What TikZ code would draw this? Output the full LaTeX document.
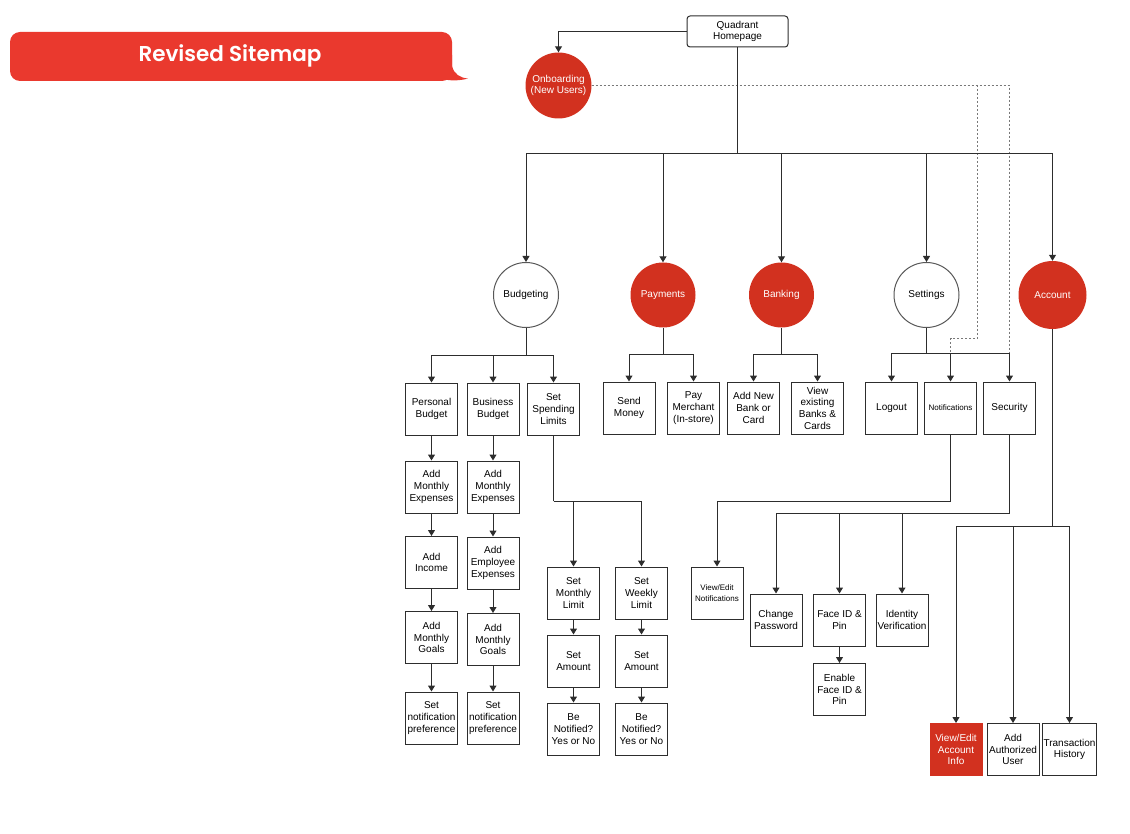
\documentclass[tikz,border=0pt]{standalone}
\usepackage{fontspec}
\setmainfont{Liberation Sans}
\newfontfamily\titlefont{Poppins}[BoldFont={* SemiBold}]
\usetikzlibrary{arrows.meta}
\definecolor{qred}{RGB}{210,49,31}
\definecolor{bannerred}{RGB}{234,57,46}
\definecolor{lnc}{RGB}{45,45,45}
\definecolor{dotc}{RGB}{120,120,120}
\tikzset{
  box/.style={draw=lnc, line width=1pt, minimum width=52pt, minimum height=52pt, inner sep=1pt, align=center, font=\fontsize{10}{11.7}\selectfont},
  redbox/.style={box, fill=qred, draw=qred, text=white},
  smallbox/.style={box, font=\fontsize{8}{11.7}\selectfont},
  wcirc/.style={circle, draw=lnc!80, line width=1pt, fill=white, minimum size=65pt, inner sep=0pt, align=center, font=\fontsize{10}{11.7}\selectfont},
  rcirc/.style={circle, fill=qred, text=white, minimum size=65pt, inner sep=0pt, align=center, font=\fontsize{10}{11.7}\selectfont},
  homebox/.style={draw=lnc, line width=1pt, rounded corners=3pt, minimum width=101pt, minimum height=31pt, inner sep=1pt, align=center, font=\fontsize{10}{11.7}\selectfont},
  conn/.style={draw=lnc, line width=1pt},
  arr/.style={conn, -{Triangle[width=7pt,length=6pt]}},
  dots/.style={draw=dotc, line width=1pt, dash pattern=on 2pt off 2pt}
}
\begin{document}
\begin{tikzpicture}[x=1pt, y=-1pt]
\useasboundingbox (0,0) rectangle (1130,834);
% title banner
\fill[bannerred, rounded corners=10pt] (10,32) rectangle (452,81);
\fill[bannerred] (430,55) -- (452,55) -- (452,66)
  .. controls (454,74) and (460,78) .. (468,78.5)
  .. controls (461,80.5) and (452,81) .. (445,79.5)
  .. controls (443,80.5) and (441,81) .. (438,81) -- (430,81) -- cycle;
\node[text=white, font=\titlefont\bfseries\fontsize{21.5}{24}\selectfont] (title) at (230,56) {Revised Sitemap};

% top
\node[homebox] (home) at (737.5,31.5) {Quadrant\\Homepage};
\node[rcirc, minimum size=66pt] (onb) at (558.5,85.5) {Onboarding\\(New Users)};

\node[wcirc] (budg) at (526,295) {Budgeting};
\node[rcirc] (pay) at (663,295) {Payments};
\node[rcirc] (bank) at (781.5,295) {Banking};
\node[wcirc] (sett) at (926.5,295) {Settings};
\node[rcirc, minimum size=68pt] (acct) at (1052.5,295) {Account};

% budgeting
\node[box] (pb) at (431.5,409) {Personal\\Budget};
\node[box] (bb) at (493,409) {Business\\Budget};
\node[box] (ssl) at (553.5,409) {Set\\Spending\\Limits};
\node[box] (ame1) at (431.5,487) {Add\\Monthly\\Expenses};
\node[box] (inc) at (431.5,562.5) {Add\\Income};
\node[box] (gl1) at (431.5,637.5) {Add\\Monthly\\Goals};
\node[box] (np1) at (431.5,718) {Set\\notification\\preference};
\node[box] (ame2) at (493,487) {Add\\Monthly\\Expenses};
\node[box] (emp) at (493,563) {Add\\Employee\\Expenses};
\node[box] (gl2) at (493,639.5) {Add\\Monthly\\Goals};
\node[box] (np2) at (493,718) {Set\\notification\\preference};
\node[box] (sml) at (573.5,593) {Set\\Monthly\\Limit};
\node[box] (amt1) at (573.5,661) {Set\\Amount};
\node[box] (ben1) at (573.5,729) {Be\\Notified?\\Yes or No};
\node[box] (swl) at (641.5,593) {Set\\Weekly\\Limit};
\node[box] (amt2) at (641.5,661) {Set\\Amount};
\node[box] (ben2) at (641.5,729) {Be\\Notified?\\Yes or No};

% payments / banking
\node[box] (send) at (629,408) {Send\\Money};
\node[box] (merch) at (693.5,408) {Pay\\Merchant\\(In-store)};
\node[box] (addb) at (753.5,408) {Add New\\Bank or\\Card};
\node[box] (viewb) at (817.5,408) {View\\existing\\Banks \&\\Cards};

% settings
\node[box] (logout) at (891.5,408) {Logout};
\node[smallbox] (notif) at (950.5,408) {Notifications};
\node[box] (sec) at (1009.5,408) {Security};
\node[smallbox] (vnotif) at (717,593) {View/Edit\\Notifications};
\node[box] (chpw) at (776,620) {Change\\Password};
\node[box] (face) at (839.5,620) {Face ID \&\\Pin};
\node[box] (ident) at (902,620) {Identity\\Verification};
\node[box] (enable) at (839.5,689.5) {Enable\\Face ID \&\\Pin};

% account
\node[redbox] (vacct) at (956,749.5) {View/Edit\\Account\\Info};
\node[box] (addu) at (1013,749.5) {Add\\Authorized\\User};
\node[box] (trans) at (1069.5,749.5) {Transaction\\History};

% junctions
\coordinate (hj) at (737.5,154);
\coordinate (bj) at (526,355);
\coordinate (pj) at (663,354);
\coordinate (kj) at (781.5,354);
\coordinate (sj) at (926.5,353);
\coordinate (ssj) at (553.5,501);
\coordinate (nj) at (950.5,501);
\coordinate (scj) at (1009.5,513);
\coordinate (aj) at (1052.5,526);
\coordinate (d1) at (977,85);
\coordinate (d2) at (977,339);
\coordinate (d3) at (950.5,339);
\coordinate (d4) at (950.5,353);
\coordinate (d5) at (1009.5,353);

% dotted onboarding paths
\draw[dots] (onb.east) -| (d5);
\draw[dots] (d1) -- (d2) -- (d3) -- (d4);

% connectors
\draw[arr] (home.west) -| (onb.north);
\draw[conn] (home.south) -- (hj);
\draw[arr] (hj) -| (budg.north);
\draw[arr] (hj) -| (pay.north);
\draw[arr] (hj) -| (bank.north);
\draw[arr] (hj) -| (sett.north);
\draw[arr] (hj) -| (acct.north);

\draw[conn] (budg.south) -- (bj);
\draw[arr] (bj) -| (pb.north);
\draw[arr] (bj) -| (bb.north);
\draw[arr] (bj) -| (ssl.north);
\draw[arr] (pb) -- (ame1);
\draw[arr] (ame1) -- (inc);
\draw[arr] (inc) -- (gl1);
\draw[arr] (gl1) -- (np1);
\draw[arr] (bb) -- (ame2);
\draw[arr] (ame2) -- (emp);
\draw[arr] (emp) -- (gl2);
\draw[arr] (gl2) -- (np2);
\draw[conn] (ssl.south) -- (ssj);
\draw[arr] (ssj) -| (sml.north);
\draw[arr] (ssj) -| (swl.north);
\draw[arr] (sml) -- (amt1);
\draw[arr] (amt1) -- (ben1);
\draw[arr] (swl) -- (amt2);
\draw[arr] (amt2) -- (ben2);

\draw[conn] (pay.south) -- (pj);
\draw[arr] (pj) -| (send.north);
\draw[arr] (pj) -| (merch.north);
\draw[conn] (bank.south) -- (kj);
\draw[arr] (kj) -| (addb.north);
\draw[arr] (kj) -| (viewb.north);

\draw[conn] (sett.south) -- (sj);
\draw[arr] (sj) -| (logout.north);
\draw[arr] (sj) -| (notif.north);
\draw[arr] (sj) -| (sec.north);
\draw[conn] (notif.south) -- (nj);
\draw[arr] (nj) -| (vnotif.north);
\draw[conn] (sec.south) -- (scj);
\draw[arr] (scj) -| (chpw.north);
\draw[arr] (scj) -| (face.north);
\draw[arr] (scj) -| (ident.north);
\draw[arr] (face) -- (enable);

\draw[conn] (acct.south) -- (aj);
\draw[arr] (aj) -| (vacct.north);
\draw[arr] (aj) -| (addu.north);
\draw[arr] (aj) -| (trans.north);
\end{tikzpicture}
\end{document}
